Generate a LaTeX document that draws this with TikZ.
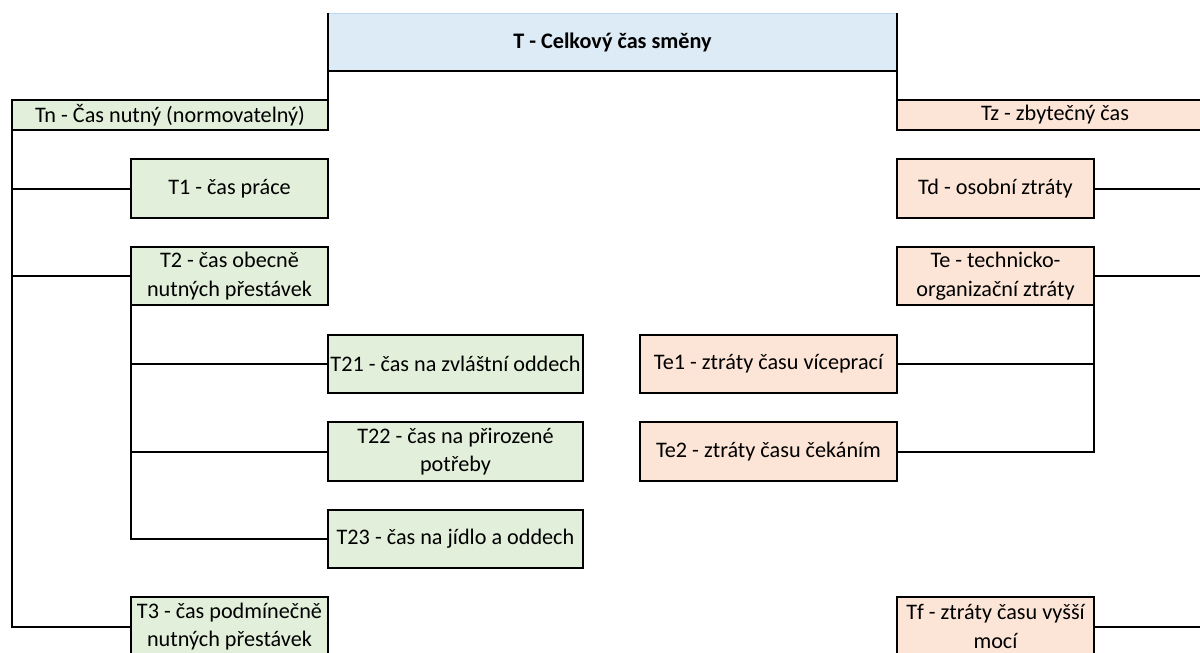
\documentclass[tikz,border=0pt]{standalone}
\usepackage{fontspec}
\setmainfont{Carlito}
\definecolor{cblue}{HTML}{DDEBF7}
\definecolor{cblueedge}{HTML}{BDD7EE}
\definecolor{cgreen}{HTML}{E2EFDA}
\definecolor{cpeach}{HTML}{FCE4D6}
\begin{document}
\begin{tikzpicture}[x=1pt,y=-1pt,
  cell/.style={draw=black, line width=2pt, outer sep=0pt, inner sep=1pt, align=center,
    font=\fontsize{22.2}{28.5}\selectfont, text=black},
  green/.style={cell, fill=cgreen},
  peach/.style={cell, fill=cpeach},
  wire/.style={draw=black, line width=2pt, line cap=rect}]
\useasboundingbox (0,0) rectangle (1200,653);
\clip (0,0) rectangle (1200,653);
\fill[white] (0,0) rectangle (1200,653);
% top
\node[cell, fill=cblue, draw=cblueedge, line width=0.8pt, minimum width=569pt, minimum height=58pt, font=\fontsize{22.2}{28.5}\selectfont\bfseries] (T) at (612.5,42) {T - Celkový čas směny};
% level 1
\node[green, minimum width=316pt, minimum height=30pt] (tn) at (170,115) {Tn - Čas nutný (normovatelný)};
\node[peach, minimum width=316pt, minimum height=30pt] (tz) at (1055,115) {Tz - zbytečný čas};
% left column
\node[green, minimum width=197pt, minimum height=59pt] (t1) at (229.5,188.5) {T1 - čas práce};
\node[green, minimum width=197pt, minimum height=58pt] (t2) at (229.5,276) {T2 - čas obecně\\nutných přestávek};
\node[green, minimum width=255pt, minimum height=58pt] (t21) at (455.5,364) {T21 - čas na zvláštní oddech};
\node[green, minimum width=255pt, minimum height=59pt] (t22) at (455.5,451.5) {T22 - čas na přirozené\\potřeby};
\node[green, minimum width=255pt, minimum height=58pt] (t23) at (455.5,539) {T23 - čas na jídlo a oddech};
\node[green, minimum width=197pt, minimum height=59pt] (t3) at (229.5,626.5) {T3 - čas podmínečně\\nutných přestávek};
% right column
\node[peach, minimum width=197pt, minimum height=59pt] (td) at (995.5,188.5) {Td - osobní ztráty};
\node[peach, minimum width=197pt, minimum height=58pt] (te) at (995.5,276) {Te - technicko-\\organizační ztráty};
\node[peach, minimum width=257pt, minimum height=58pt] (te1) at (768.5,364) {Te1 - ztráty času víceprací};
\node[peach, minimum width=257pt, minimum height=59pt] (te2) at (768.5,451.5) {Te2 - ztráty času čekáním};
\node[peach, minimum width=197pt, minimum height=59pt] (tf) at (995.5,626.5) {Tf - ztráty času vyšší\\mocí};
% top box borders
\draw[wire] (T.south west) -- (T.south east);
\draw[wire, line cap=butt] (T.north west) -- (tn.north east);
\draw[wire, line cap=butt] (T.north east) -- (tz.north west);
% left spine
\draw[wire] (tn.south west) |- (t3.west);
\draw[wire] (tn.south west |- t1.west) -- (t1.west);
\draw[wire] (tn.south west |- t2.west) -- (t2.west);
% T2 spine
\draw[wire] (t2.south west) |- (t23.west);
\draw[wire] (t2.south west |- t21.west) -- (t21.west);
\draw[wire] (t2.south west |- t22.west) -- (t22.west);
% right spine (off the visible area)
\draw[wire] (td.east) -- (td.east -| tz.east);
\draw[wire] (te.east) -- (te.east -| tz.east);
\draw[wire] (tf.east) -- (tf.east -| tz.east);
% Te spine
\draw[wire] (te.south east) |- (te2.east);
\draw[wire] (te1.east) -- (te1.east -| te.south east);
\end{tikzpicture}
\end{document}
